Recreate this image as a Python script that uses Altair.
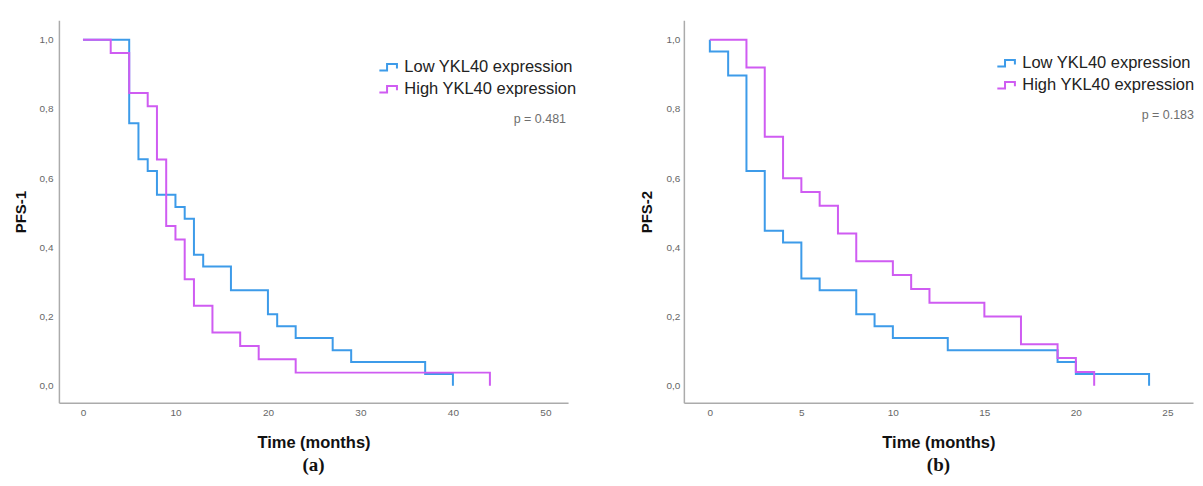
import altair as alt
import pandas as pd

groups = ["Low YKL40 expression", "High YKL40 expression"]
colors = ["#3d9be9", "#cf5cf2"]

# Panel (a): PFS-1
a_low_t = [0, 5, 6, 7, 8, 10, 11, 12, 13, 16, 20, 21, 23, 27, 29, 37, 40]
a_low_s = [1.0, 0.759, 0.655, 0.621, 0.552, 0.517, 0.483, 0.379, 0.345, 0.276,
           0.207, 0.172, 0.138, 0.103, 0.069, 0.034, 0.0]
a_high_t = [0, 3, 5, 7, 8, 9, 10, 11, 12, 14, 17, 19, 23, 44]
a_high_s = [1.0, 0.962, 0.846, 0.808, 0.654, 0.462, 0.423, 0.308, 0.231, 0.154,
            0.115, 0.077, 0.038, 0.0]

# Panel (b): PFS-2
b_low_t = [0, 0, 1, 2, 3, 4, 5, 6, 8, 9, 10, 13, 19, 20, 24]
b_low_s = [1.0, 0.966, 0.897, 0.621, 0.448, 0.414, 0.310, 0.276, 0.207, 0.172,
           0.138, 0.103, 0.069, 0.034, 0.0]
b_high_t = [0, 2, 3, 4, 5, 6, 7, 8, 10, 11, 12, 15, 17, 19, 20, 21]
b_high_s = [1.0, 0.92, 0.72, 0.60, 0.56, 0.52, 0.44, 0.36, 0.32, 0.28, 0.24,
            0.20, 0.12, 0.08, 0.04, 0.0]

p_values = ["p = 0.481", "p = 0.183"]
panel_labels = ["(a)", "(b)"]
y_titles = ["PFS-1", "PFS-2"]
x_title = "Time (months)"
y_ticks = [0.0, 0.2, 0.4, 0.6, 0.8, 1.0]
a_x_ticks = [0, 10, 20, 30, 40, 50]
b_x_ticks = [0, 5, 10, 15, 20, 25]

FONT = "Liberation Sans"
LEGEND_SYMBOL = "M-1,0.3H-0.3V-0.3H0.6V0.1"


def km_frame(series):
    rows = []
    for g, (ts, ss) in zip(groups, series):
        for i, (t, s) in enumerate(zip(ts, ss)):
            rows.append({"t": t, "s": s, "group": g, "i": i})
    return pd.DataFrame(rows)


def panel(df, xdom, xticks, ytitle, ptext, label, legend_x, legend_y, p_x, p_y,
          y_label_pad, y_title_pad):
    color = alt.Color(
        "group:N",
        scale=alt.Scale(domain=groups, range=colors),
        legend=alt.Legend(
            title=None, orient="none", legendX=legend_x, legendY=legend_y,
            symbolType=LEGEND_SYMBOL, symbolSize=484, symbolStrokeWidth=2,
            labelFontSize=16.5, labelFont=FONT, labelColor="#222",
            labelOffset=2, rowPadding=1, padding=0, labelLimit=400,
        ),
    )
    lines = alt.Chart(df).mark_line(interpolate="step-after", strokeWidth=2).encode(
        x=alt.X("t:Q",
                scale=alt.Scale(domain=xdom, nice=False, zero=False),
                axis=alt.Axis(values=xticks, title=x_title, labelFlush=False)),
        y=alt.Y("s:Q",
                scale=alt.Scale(domain=[-0.049, 1.056], nice=False, zero=False),
                axis=alt.Axis(values=y_ticks, title=ytitle,
                              labelExpr="replace(format(datum.value, '.1f'), '.', ',')",
                              labelPadding=y_label_pad, titlePadding=y_title_pad,
                              titleFontSize=15)),
        color=color,
        order=alt.Order("i:Q"),
    )
    ptxt = alt.Chart(pd.DataFrame({"p": [ptext]})).mark_text(
        align="right", baseline="middle", fontSize=12.5, font=FONT, color="#6e6e6e"
    ).encode(text="p:N", x=alt.value(p_x), y=alt.value(p_y))
    return alt.layer(lines, ptxt).properties(
        width=510, height=383,
        title=alt.TitleParams(label, orient="bottom", font="Liberation Serif",
                              fontSize=19, fontWeight="bold", color="#111",
                              anchor="middle", frame="group", offset=5),
    )


df_a = km_frame([(a_low_t, a_low_s), (a_high_t, a_high_s)])
df_b = km_frame([(b_low_t, b_low_s), (b_high_t, b_high_s)])

pa = panel(df_a, [-2.6, 52.45], a_x_ticks, y_titles[0], p_values[0], panel_labels[0],
           320, 35, 508, 99, 6, 11)
pb = panel(df_b, [-1.42, 26.4], b_x_ticks, y_titles[1], p_values[1], panel_labels[1],
           313, 31, 511, 95, 4, 12)

chart = alt.hconcat(pa, pb, spacing=62).resolve_scale(color="independent").resolve_legend(
    color="independent"
).properties(
    padding={"left": 5, "top": 12, "right": 0, "bottom": 0},
    background="white",
).configure_view(stroke=None).configure_axis(
    grid=False, ticks=False, domainColor="#ababab", domainWidth=1.5,
    labelColor="#666", labelFont=FONT, labelFontSize=10, labelPadding=5,
    titleFont=FONT, titleFontWeight="bold", titleColor="#111",
).configure_axisX(titleFontSize=16.5, titlePadding=17)

chart.save("out.html", embed_options={"renderer": "svg", "actions": False})
